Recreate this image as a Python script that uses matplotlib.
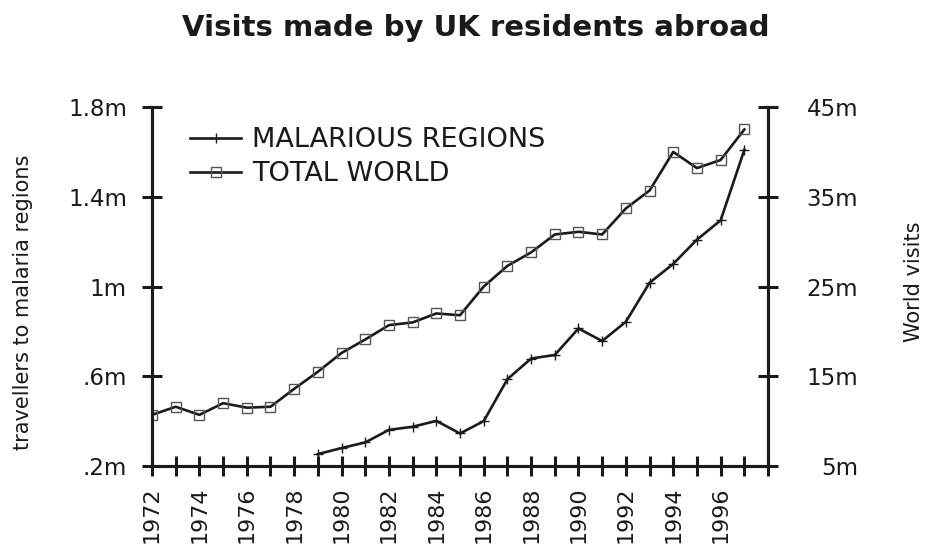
import numpy as np
import matplotlib.pyplot as plt

plt.rcParams['font.family'] = ['DejaVu Sans']

years_world = list(range(1972, 1998))
world_visits = [10.7, 11.6, 10.7, 12.0, 11.5, 11.6, 13.6, 15.5, 17.6, 19.1,
                20.7, 21.0, 22.0, 21.8, 25.0, 27.3, 28.8, 30.8, 31.1, 30.8,
                33.7, 35.7, 40.0, 38.2, 39.1, 42.5]

years_malaria = list(range(1979, 1998))
malaria_travellers = [0.253, 0.28, 0.305, 0.361, 0.375, 0.401, 0.345, 0.40,
                      0.587, 0.679, 0.695, 0.813, 0.757, 0.843, 1.017, 1.101,
                      1.209, 1.295, 1.609]

left_ticks = [0.2, 0.6, 1.0, 1.4, 1.8]
left_labels = ['.2m', '.6m', '1m', '1.4m', '1.8m']
right_ticks = [5, 15, 25, 35, 45]
right_labels = ['5m', '15m', '25m', '35m', '45m']
year_ticks = list(range(1972, 1999))
year_labels = [str(y) if (y % 2 == 0 and y < 1998) else '' for y in year_ticks]

ink = '#1a1a1a'

fig = plt.figure(figsize=(9.27, 5.49), dpi=100)
ax = fig.add_axes([0.164, 0.1512, 0.6645, 0.6538])
ax2 = ax.twinx()

lw = 1.9
ax.plot(years_malaria, malaria_travellers, color=ink, lw=lw, marker='+',
        ms=7, mew=1.0, label='MALARIOUS REGIONS')
ax2.plot(years_world, world_visits, color=ink, lw=lw, marker='s', ms=6.5,
         mfc='none', mec='#555555', mew=1.0, label='TOTAL WORLD')

ax.set_xlim(1972, 1998)
ax.set_ylim(0.2, 1.8)
ax2.set_ylim(5, 45)

ax.set_yticks(left_ticks)
ax.set_yticklabels(left_labels)
ax2.set_yticks(right_ticks)
ax2.set_yticklabels(right_labels, ha='right')
ax.set_xticks(year_ticks)
ax.set_xticklabels(year_labels, rotation=90)

for a in (ax, ax2):
    a.spines['top'].set_visible(False)
    for s in a.spines.values():
        s.set_linewidth(2.2)
        s.set_color(ink)
    a.tick_params(direction='inout', length=14, width=2.2, color=ink,
                  labelsize=16.5, labelcolor=ink)
ax.tick_params(axis='y', pad=11)
ax2.tick_params(axis='y', pad=58)
ax.tick_params(axis='x', pad=8, labelsize=16)

ax.set_zorder(ax2.get_zorder() + 1)
ax.patch.set_visible(False)

h1, l1 = ax.get_legend_handles_labels()
h2, l2 = ax2.get_legend_handles_labels()
ax.legend(h1 + h2, l1 + l2, loc='upper left', bbox_to_anchor=(0.022, 1.012),
          frameon=False, fontsize=19.5, handlelength=1.9, handletextpad=0.4,
          labelspacing=0.3, labelcolor=ink)

fig.text(0.513, 0.949, 'Visits made by UK residents abroad', ha='center',
         va='center', fontsize=21, fontweight='bold', color=ink)
fig.text(0.025, 0.45, 'travellers to malaria regions', rotation=90,
         ha='center', va='center', fontsize=15, color=ink)
fig.text(0.986, 0.486, 'World visits', rotation=90, ha='center', va='center',
         fontsize=15, color=ink)

fig.savefig('out.png', dpi=100)
